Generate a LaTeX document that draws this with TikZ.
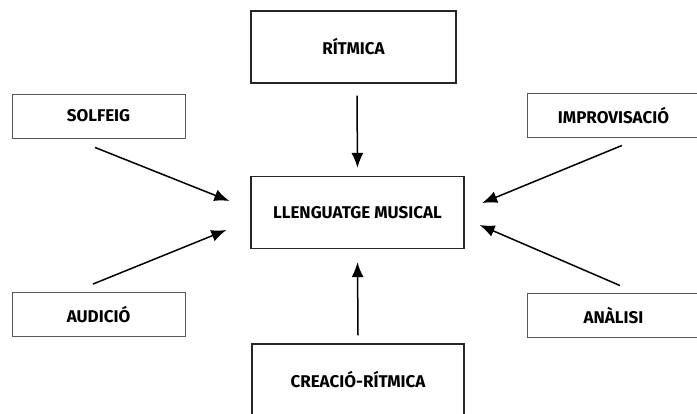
\documentclass[tikz,border=0pt]{standalone}
\usepackage{fontspec}
\setmainfont{Fira Sans}
\usetikzlibrary{arrows.meta}
\tikzset{
bigbox/.style={draw=black!85, line width=1.3pt, minimum width=#1, minimum height=72pt, inner sep=0pt, font=\fontsize{17}{20}\selectfont\bfseries},
smallbox/.style={draw=black!65, line width=0.9pt, minimum width=173pt, minimum height=44pt, inner sep=0pt, font=\fontsize{17}{20}\selectfont\bfseries},
link/.style={line width=1.5pt, -{Latex[length=15pt,width=12pt]}}
}
\begin{document}
\begin{tikzpicture}[x=1pt,y=1pt]
\useasboundingbox (0,0) rectangle (697,-414);

\node[bigbox=205pt] (ritmica) at (353.5,-47) {RÍTMICA};
\node[bigbox=213pt] (llenguatge) at (357.5,-212.5) {LLENGUATGE MUSICAL};
\node[bigbox=212pt] (creacio) at (358,-380) {CREACIÓ-RÍTMICA};

\node[smallbox] (solfeig) at (98.5,-116) {SOLFEIG};
\node[smallbox] (audicio) at (98.5,-314.5) {AUDICIÓ};
\node[smallbox] (improvisacio) at (613.5,-115.5) {IMPROVISACIÓ};
\node[smallbox] (analisi) at (613.5,-315.5) {ANÀLISI};

%\draw[link] (ritmica) -- (llenguatge);
\draw[link] ([xshift=3.5pt,yshift=-12pt]ritmica.south) -- ([yshift=8pt]llenguatge.north);
\draw[link] ([yshift=8pt]creacio.north) -- ([yshift=-13pt]llenguatge.south);

\draw[link] ([shift={(-3.5pt,-9pt)}]solfeig.south) -- ([shift={(-21pt,11.5pt)}]llenguatge.west);
\draw[link] ([shift={(-5.5pt,8pt)}]audicio.north) -- ([shift={(-24pt,-17.5pt)}]llenguatge.west);
\draw[link] ([shift={(8.5pt,-7.5pt)}]improvisacio.south) -- ([shift={(17.5pt,9.5pt)}]llenguatge.east);
\draw[link] ([shift={(6.5pt,7.5pt)}]analisi.north) -- ([shift={(15pt,-12.5pt)}]llenguatge.east);

\end{tikzpicture}
\end{document}
